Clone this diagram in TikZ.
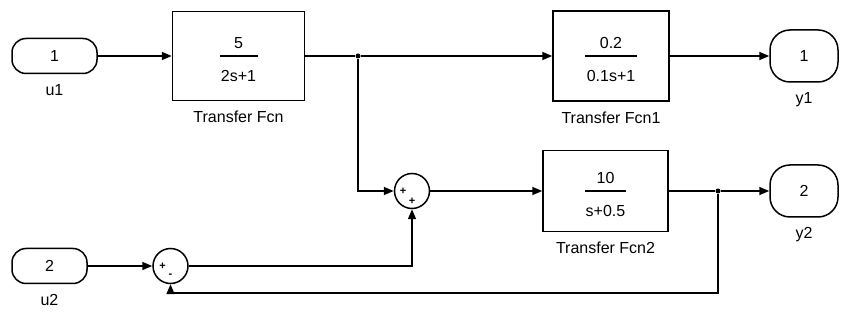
\documentclass[tikz,border=0pt]{standalone}
\usepackage{fontspec}
\setmainfont{Liberation Sans}
\usetikzlibrary{arrows.meta,positioning,calc}

% transfer function text: numerator, denominator, bar width
\newcommand{\tffrac}[3]{\rule{0pt}{18.5pt}#1\\[-11pt]\rule{#3}{1.2pt}\\[6pt]#2}

\begin{document}
\begin{tikzpicture}[
    x=1pt, y=-1pt,
    font=\fontsize{16}{19}\selectfont,
    line width=1.5pt,
    port/.style={draw, rounded corners=14pt, minimum height=35pt, inner sep=0pt},
    outport/.style={draw, rounded corners=20pt, minimum width=68pt, minimum height=52pt, inner sep=0pt},
    tfbox/.style={draw, align=center, inner sep=0pt},
    sumnode/.style={draw, circle, minimum size=35pt, inner sep=0pt},
    sgn/.style={font=\fontsize{11}{11}\selectfont\bfseries, inner sep=0pt},
    lab/.style={inner sep=0pt},
    dot/.style={circle, fill, inner sep=0pt, minimum size=5pt},
    arr/.style={-{Triangle[length=10pt,width=8pt]}}
]
\useasboundingbox (0,0) rectangle (843,320);

\node[port, minimum width=85pt] (in1) at (54.5,56) {1};
\node[tfbox, minimum width=132pt, minimum height=89pt] (tf) at (238.5,56) {\tffrac{5}{2s+1}{38pt}};
\node[dot] (b1) at (358,56) {};
\node[tfbox, minimum width=116pt, minimum height=90pt] (tf1) at (611,56) {\tffrac{0.2}{0.1s+1}{52pt}};
\node[outport] (out1) at (804,56) {1};

\node[sumnode] (sum1) at (412,191) {};
\node[tfbox, minimum width=125pt, minimum height=81pt] (tf2) at (605.5,191) {\tffrac{10}{s+0.5}{41pt}};
\node[dot] (b2) at (718,191) {};
\node[outport] (out2) at (804,191) {2};

\node[port, minimum width=75pt] (in2) at (49.5,266) {2};
\node[sumnode] (sum2) at (170.5,266) {};
\coordinate (fb) at (170.5,293);

% signs of the sums
\node[sgn] (s1a) at ($(sum1)+(-9,0)$) {+};
\node[sgn] (s1b) at ($(sum1)+(0,10)$) {+};
\node[sgn] (s2a) at ($(sum2)+(-8,0)$) {+};
\node[sgn] (s2b) at ($(sum2)+(0,10)$) {-};

% block names
\node[lab, below=9pt of in1] (in1lab) {u1};
\node[lab, below=9pt of in2] (in2lab) {u2};
\node[lab, below=9pt of tf] (tflab) {Transfer Fcn};
\node[lab, below=9pt of tf1] (tf1lab) {Transfer Fcn1};
\node[lab, below=9pt of tf2] (tf2lab) {Transfer Fcn2};
\node[lab, below=9pt of out1] (out1lab) {y1};
\node[lab, below=9pt of out2] (out2lab) {y2};

\draw[arr] (in1) -- (tf);
\draw (tf) -- (b1);
\draw[arr] (b1) -- (tf1);
\draw[arr] (tf1) -- (out1);
\draw[arr] (b1) |- (sum1);
\draw[arr] (sum1) -- (tf2);
\draw (tf2) -- (b2);
\draw[arr] (b2) -- (out2);
\draw[arr] (in2) -- (sum2);
\draw[arr] (sum2) -| (sum1);
\draw (b2) |- (fb);
\draw[arr] (fb) -- (sum2);
\end{tikzpicture}
\end{document}
